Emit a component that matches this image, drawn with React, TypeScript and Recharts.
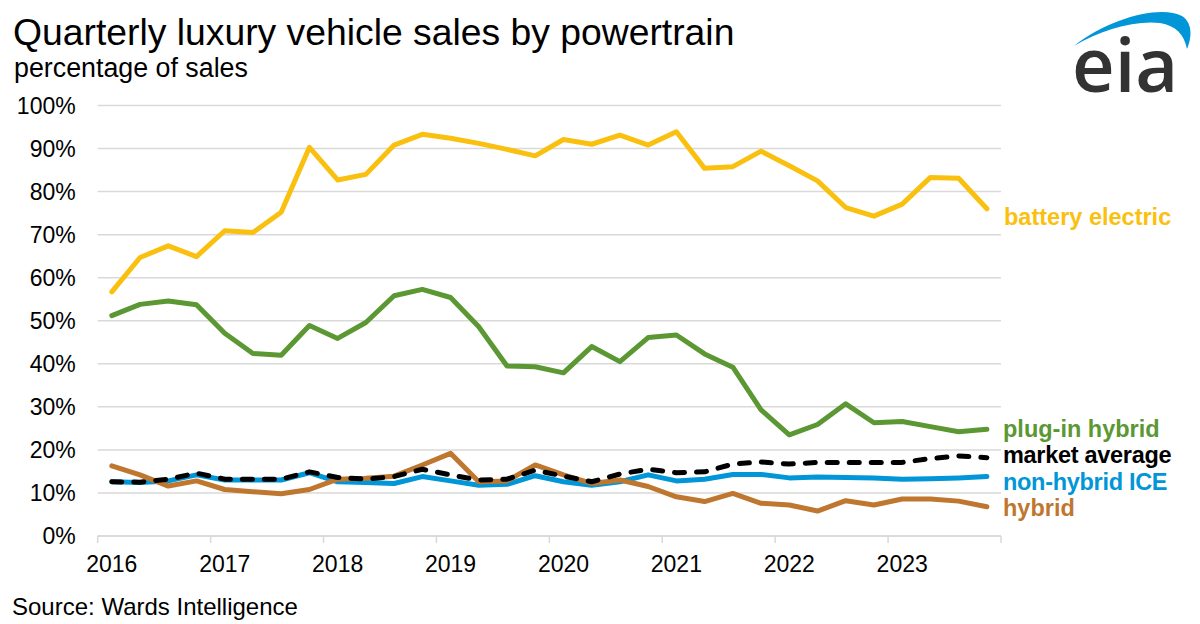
import { CartesianGrid, Line, LineChart, XAxis, YAxis } from "recharts";

const years = ["2016", "2017", "2018", "2019", "2020", "2021", "2022", "2023"];
const quarters = years.flatMap((y) => ["Q1", "Q2", "Q3", "Q4"].map((q) => `${y} ${q}`));

const batteryElectric = [
	56.7, 64.7, 67.4, 64.9, 70.9, 70.5, 75.2, 90.3, 82.7, 84.0, 90.8, 93.3, 92.4, 91.2, 89.8, 88.3,
	92.1, 91.0, 93.1, 90.8, 93.9, 85.4, 85.8, 89.4, 86.0, 82.5, 76.3, 74.3, 77.1, 83.3, 83.1, 76.0,
];
const plugInHybrid = [
	51.2, 53.8, 54.6, 53.7, 47.1, 42.4, 42.0, 48.9, 45.9, 49.6, 55.8, 57.3, 55.4, 48.6, 39.5, 39.3,
	37.9, 44.0, 40.5, 46.1, 46.7, 42.3, 39.2, 29.3, 23.5, 25.9, 30.7, 26.3, 26.6, 25.4, 24.2, 24.8,
];
const marketAverage = [
	12.6, 12.5, 13.2, 14.6, 13.2, 13.2, 13.2, 14.9, 13.6, 13.2, 13.8, 15.5, 14.2, 13.0, 13.2, 15.3,
	13.9, 12.6, 14.4, 15.5, 14.7, 14.9, 16.7, 17.2, 16.7, 17.1, 17.1, 17.1, 17.1, 18.0, 18.6, 18.2,
];
const nonHybridIce = [
	12.6, 12.4, 12.8, 14.2, 13.0, 13.0, 13.0, 14.7, 12.6, 12.4, 12.2, 13.8, 12.8, 11.8, 12.0, 14.0,
	12.6, 11.8, 12.6, 14.2, 12.8, 13.2, 14.3, 14.3, 13.5, 13.7, 13.6, 13.5, 13.2, 13.3, 13.5, 13.8,
];
const hybrid = [
	16.3, 14.2, 11.6, 12.8, 10.8, 10.3, 9.8, 10.8, 13.2, 13.4, 13.9, 16.5, 19.2, 12.6, 12.8, 16.5,
	14.2, 12.2, 13.0, 11.5, 9.1, 8.0, 9.9, 7.6, 7.2, 5.8, 8.2, 7.2, 8.6, 8.6, 8.1, 6.8,
];
const yTicks = [0, 10, 20, 30, 40, 50, 60, 70, 80, 90, 100];
// year boundaries on the quarter index axis
const xTicks = [-0.5, 3.5, 7.5, 11.5, 15.5, 19.5, 23.5, 27.5, 31.5];

const data = quarters.map((quarter, i) => ({
	idx: i,
	quarter,
	batteryElectric: batteryElectric[i],
	plugInHybrid: plugInHybrid[i],
	marketAverage: marketAverage[i],
	nonHybridIce: nonHybridIce[i],
	hybrid: hybrid[i],
}));

const FONT = '"Liberation Sans", Arial, sans-serif';
const YELLOW = "#FAC010";
const GREEN = "#5B9833";
const BLUE = "#0096D7";
const BROWN = "#BF772F";
const GRID = "#D9D9D9";
const HALF_QUARTER = 903.3 / 32 / 2;

function YearTick({ x, y, payload }: any) {
	const pos = Math.round(payload.value + 0.5) / 4;
	const label = years[pos];
	if (!label) return <g />;
	return (
		<text x={x + HALF_QUARTER} y={y + 26.5} textAnchor="middle" fontSize={23} fontFamily={FONT} fill="#000">
			{label}
		</text>
	);
}

export default function App() {
	return (
		<div
			style={{
				position: "absolute",
				left: 0,
				top: 0,
				width: 1200,
				height: 624,
				background: "#fff",
				overflow: "hidden",
				fontFamily: FONT,
			}}
		>
			<LineChart
				width={1200}
				height={624}
				data={data}
				margin={{ top: 105.5, right: 199, bottom: 48, left: 17.7 }}
			>
				<CartesianGrid vertical={false} stroke={GRID} strokeWidth={1.5} />
				<XAxis
					dataKey="idx"
					type="number"
					domain={[-0.5, 31.5]}
					ticks={xTicks}
					height={40}
					interval={0}
					stroke={GRID}
					strokeWidth={1.5}
					tickSize={7}
					tick={<YearTick />}
				/>
				<YAxis
					width={80}
					domain={[0, 100]}
					ticks={yTicks}
					interval={0}
					axisLine={false}
					tickLine={false}
					tickSize={0}
					tickMargin={22}
					tickFormatter={(v) => `${v}%`}
					tick={{ fill: "#000", fontSize: 23, fontFamily: FONT }}
				/>
				<Line
					dataKey="nonHybridIce"
					type="linear"
					stroke={BLUE}
					strokeWidth={5}
					strokeLinejoin="round"
					strokeLinecap="round"
					dot={false}
					isAnimationActive={false}
				/>
				<Line
					dataKey="hybrid"
					type="linear"
					stroke={BROWN}
					strokeWidth={5}
					strokeLinejoin="round"
					strokeLinecap="round"
					dot={false}
					isAnimationActive={false}
				/>
				<Line
					dataKey="marketAverage"
					type="linear"
					stroke="#000"
					strokeWidth={5}
					strokeDasharray="10 12"
					strokeLinejoin="round"
					strokeLinecap="round"
					dot={false}
					isAnimationActive={false}
				/>
				<Line
					dataKey="plugInHybrid"
					type="linear"
					stroke={GREEN}
					strokeWidth={5}
					strokeLinejoin="round"
					strokeLinecap="round"
					dot={false}
					isAnimationActive={false}
				/>
				<Line
					dataKey="batteryElectric"
					type="linear"
					stroke={YELLOW}
					strokeWidth={5}
					strokeLinejoin="round"
					strokeLinecap="round"
					dot={false}
					isAnimationActive={false}
				/>
			</LineChart>
			<svg
				width={1200}
				height={624}
				style={{ position: "absolute", left: 0, top: 0, pointerEvents: "none" }}
				fontFamily={FONT}
			>
				<text x={13} y={45} fontSize={37.3} fill="#000">
					Quarterly luxury vehicle sales by powertrain
				</text>
				<text x={14} y={77} fontSize={26.8} fill="#000">
					percentage of sales
				</text>
				<text x={12} y={615} fontSize={24} fill="#000">
					Source: Wards Intelligence
				</text>
				<g fontSize={23.5} fontWeight="bold">
					<text x={1004} y={225} fill={YELLOW}>battery electric</text>
					<text x={1003} y={437} fill={GREEN}>plug-in hybrid</text>
					<text x={1003} y={463} fill="#000" letterSpacing={-0.3}>market average</text>
					<text x={1003} y={490} fill={BLUE} letterSpacing={-0.3}>non-hybrid ICE</text>
					<text x={1003} y={516} fill={BROWN}>hybrid</text>
				</g>
				<path
					d="M1074,46 C1110,18 1160,5 1182,16 C1194,24 1191,40 1187,49 C1184,34 1176,26 1160,23 C1135,20 1100,30 1074,46 Z"
					fill={BLUE}
				/>
				<text x={1072} y={92} fontSize={74} fontFamily='"Open Sans", sans-serif' fontWeight={600} fill="#333">
					eia
				</text>
			</svg>
		</div>
	);
}
